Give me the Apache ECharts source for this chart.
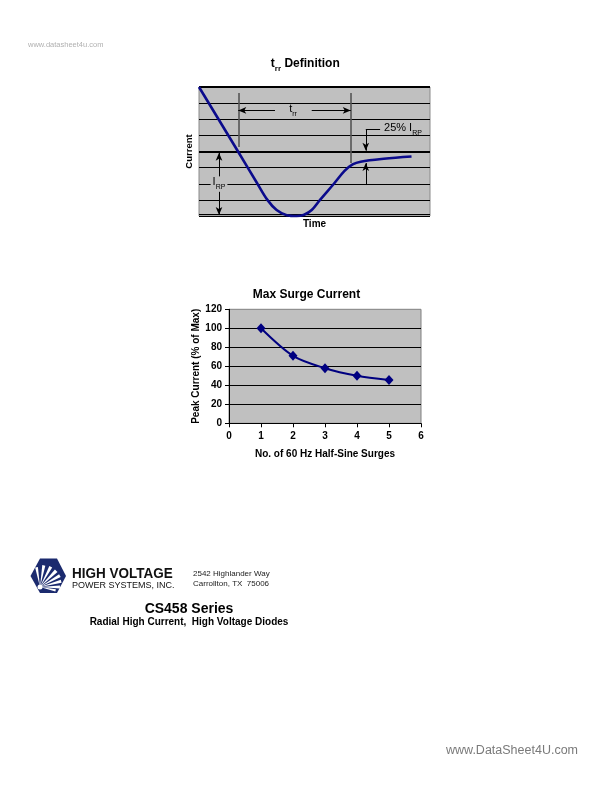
<!DOCTYPE html>
<html><head><meta charset="utf-8">
<script src="https://cdn.jsdelivr.net/npm/echarts@6/dist/echarts.min.js"></script>
<style>html,body{margin:0;padding:0;background:#fff}#c{width:612px;height:792px}</style>
</head><body><div id="c"></div>
<script>
const FONT = 'Liberation Sans, Arial, Helvetica, sans-serif';
// trr definition curve (schematic; x = time units 0-100, y = grid rows 0-8)
const trrTime    = [0, 16.9, 25.3, 29.6, 33.6, 38, 42.3, 45.5, 48.8, 52.4, 58.4, 63, 66.5, 70, 80, 92];
const trrCurrent = [8, 4, 2, 1, 0.37, 0.05, 0, 0.08, 0.37, 1, 2, 2.8, 3.2, 3.37, 3.55, 3.69];
// Max surge current
const surgeCount = [1, 2, 3, 4, 5];
const surgePeak  = [100, 71, 58, 50, 45.5];
const surgeXTicks = [0, 1, 2, 3, 4, 5, 6];
const surgeYTicks = [0, 20, 40, 60, 80, 100, 120];
// annotation segments in diagram units: [x1, y1, x2, y2, arrowAtEnd]
const trrMarkerLines = [[17.0, 7.63, 17.0, 4.28, 0], [65.7, 7.63, 65.7, 3.29, 0]];
const trrArrows      = [[32.9, 6.55, 17.0, 6.55, 1], [48.8, 6.55, 65.7, 6.55, 1]];
const irpArrows      = [[8.66, 2.45, 8.66, 3.92, 1], [8.66, 1.5, 8.66, 0.06, 1]];
const quarterArrows  = [[72.2, 5.38, 78.4, 5.38, 0], [72.2, 5.38, 72.2, 4.05, 1], [72.2, 1.92, 72.2, 3.28, 1]];
const heavyLevels = [4, 8];
const baseLevels = [0, 0.13];

const chart = echarts.init(document.getElementById('c'), null, {renderer: 'canvas'});

function seg(s, color, width) {
  const ls = {color: color, width: width, type: 'solid'};
  return [{coord: [s[0], s[1]], symbol: 'none', lineStyle: ls},
          {coord: [s[2], s[3]], symbol: s[4] ? 'arrow' : 'none', lineStyle: ls}];
}
function level(v, width) {
  return {yAxis: v, symbol: 'none', lineStyle: {color: '#000', width: width, type: 'solid'}};
}

const markData = []
  .concat(heavyLevels.map(v => level(v, 2)))
  .concat(baseLevels.map(v => level(v, 1.1)))
  .concat(trrMarkerLines.map(s => seg(s, '#555', 1.6)))
  .concat(trrArrows.map(s => seg(s, '#000', 1)))
  .concat(irpArrows.map(s => seg(s, '#000', 1)))
  .concat(quarterArrows.map(s => seg(s, '#000', 1)));

const boldLabel = {fontFamily: FONT, fontWeight: 'bold', fontSize: 10, color: '#000'};

const option = {
  animation: false,
  backgroundColor: '#fff',
  grid: [
    {left: 199, top: 87, width: 231, height: 129, show: true, backgroundColor: '#c0c0c0', borderColor: '#8a8a8a', borderWidth: 1},
    {left: 229, top: 309.3, width: 192, height: 114, show: true, backgroundColor: '#c0c0c0', borderColor: '#808080', borderWidth: 1}
  ],
  xAxis: [
    {gridIndex: 0, type: 'value', min: 0, max: 100, axisLine: {show: false}, axisTick: {show: false},
     axisLabel: {show: false}, splitLine: {show: false},
     name: 'Time', nameLocation: 'middle', nameGap: 3.5, nameTextStyle: Object.assign({}, boldLabel, {verticalAlign: 'top'})},
    {gridIndex: 1, type: 'value', min: surgeXTicks[0], max: surgeXTicks[surgeXTicks.length - 1], interval: 1,
     axisLine: {show: true, onZero: false, lineStyle: {color: '#000', width: 1}},
     axisTick: {show: true, inside: false, length: 4, lineStyle: {color: '#000'}},
     axisLabel: Object.assign({margin: 8}, boldLabel), splitLine: {show: false},
     name: 'No. of 60 Hz Half-Sine Surges', nameLocation: 'middle', nameGap: 25.5,
     nameTextStyle: Object.assign({}, boldLabel, {verticalAlign: 'top'})}
  ],
  yAxis: [
    {gridIndex: 0, type: 'value', min: 0, max: 8, interval: 1, axisLine: {show: false}, axisTick: {show: false},
     axisLabel: {show: false}, splitLine: {show: true, lineStyle: {color: '#000', width: 1.2}},
     name: 'Current', nameLocation: 'middle', nameGap: 5, nameTextStyle: Object.assign({}, boldLabel, {fontSize: 9.5})},
    {gridIndex: 1, type: 'value', min: surgeYTicks[0], max: surgeYTicks[surgeYTicks.length - 1], interval: 20,
     axisLine: {show: true, onZero: false, lineStyle: {color: '#000', width: 1}},
     axisTick: {show: true, inside: false, length: 4, lineStyle: {color: '#000'}},
     axisLabel: Object.assign({margin: 7}, boldLabel),
     splitLine: {show: true, showMaxLine: false, lineStyle: {color: '#000', width: 1}},
     name: 'Peak Current (% of Max)', nameLocation: 'middle', nameGap: 28, nameTextStyle: boldLabel}
  ],
  series: [
    {type: 'line', xAxisIndex: 0, yAxisIndex: 0, data: [], z: 2, silent: true,
     markLine: {silent: true, symbol: ['none', 'none'], symbolSize: [5, 8], label: {show: false}, animation: false, data: markData}},
    {type: 'line', xAxisIndex: 0, yAxisIndex: 0, z: 5, clip: false, smooth: 0.35, showSymbol: false,
     lineStyle: {color: '#0b0b8c', width: 2.6}, data: trrTime.map((t, i) => [t, trrCurrent[i]])},
    {type: 'line', xAxisIndex: 1, yAxisIndex: 1, z: 5, smooth: 0.3, symbol: 'diamond', symbolSize: [9, 10],
     itemStyle: {color: '#000080'}, lineStyle: {color: '#000080', width: 2},
     data: surgeCount.map((c, i) => [c, surgePeak[i]])}
  ]
};
chart.setOption(option);

function px(x, y) { return chart.convertToPixel({gridIndex: 0}, [x, y]); }
const subRich = {
  n: {fontFamily: FONT, fontSize: 11, lineHeight: 14, color: '#000', verticalAlign: 'top'},
  s: {fontFamily: FONT, fontSize: 7, lineHeight: 8, color: '#000', verticalAlign: 'bottom'}
};
const trrPos = px(40.7, 6.55), irpPos = px(8.66, 2), qPos = px(80.1, 5.38);

// logo: flat-topped hexagon with a white burst from the lower left
const hex = [[30.5, 576], [40, 558.5], [57, 558.5], [66, 576], [57, 593], [40, 593]];
const fx = 40, fy = 587;
const rays = [[100, 20, 0.07], [80, 22, 0.07], [62, 23, 0.07], [45, 23, 0.08], [30, 23, 0.07], [15, 22, 0.07], [0, 20, 0.07], [-12, 16, 0.07]].map(([deg, len, w]) => {
  const a = deg * Math.PI / 180;
  return {type: 'polygon', shape: {points: [[fx, fy],
    [fx + len * Math.cos(a - w), fy - len * Math.sin(a - w)],
    [fx + len * Math.cos(a + w), fy - len * Math.sin(a + w)]]}, style: {fill: '#fff'}};
});

const graphics = [
  {type: 'text', left: 28, top: 41, style: {text: 'www.datasheet4u.com', font: '7.5px ' + FONT, fill: '#b0b0b0'}},
  {type: 'text', x: 305.3, y: 65, style: {text: '{b|t}{bs|rr}{b| Definition}', align: 'center', verticalAlign: 'middle',
    rich: {b: {fontFamily: FONT, fontWeight: 'bold', fontSize: 12, lineHeight: 15, verticalAlign: 'top', fill: '#000'},
           bs: {fontFamily: FONT, fontWeight: 'bold', fontSize: 8, lineHeight: 9, verticalAlign: 'bottom', fill: '#000'}}}},
  {type: 'text', x: 306.5, y: 295, style: {text: 'Max Surge Current', align: 'center', verticalAlign: 'middle',
    font: 'bold 12px ' + FONT, fill: '#000'}},
  {type: 'text', x: trrPos[0], y: trrPos[1], z: 10, style: {text: '{n|t}{s|rr}', align: 'center', verticalAlign: 'middle', rich: subRich}},
  {type: 'text', x: irpPos[0], y: irpPos[1], z: 10, style: {text: '{n|I}{s|RP}', align: 'center', verticalAlign: 'middle', rich: subRich,
    backgroundColor: '#c0c0c0', padding: [0, 2]}},
  {type: 'text', x: qPos[0], y: qPos[1], z: 10, style: {text: '{n|25% I}{s|RP}', align: 'left', verticalAlign: 'middle', rich: subRich}},
  {type: 'polygon', shape: {points: hex}, style: {fill: '#1b2a6e'}},
  {type: 'group', children: rays},
  {type: 'circle', shape: {cx: fx, cy: fy, r: 2.5}, style: {fill: '#fff'}},
  {type: 'text', x: 72, y: 574, scaleX: 0.9, originX: 0, originY: 0, style: {text: 'HIGH VOLTAGE', font: 'bold 15px ' + FONT, fill: '#111', verticalAlign: 'middle'}},
  {type: 'text', x: 72, y: 586, style: {text: 'POWER SYSTEMS, INC.', font: '9px ' + FONT, fill: '#111', verticalAlign: 'middle'}},
  {type: 'text', x: 193, y: 574, style: {text: '2542 Highlander Way', font: '8px ' + FONT, fill: '#222', verticalAlign: 'middle'}},
  {type: 'text', x: 193, y: 584, style: {text: 'Carrollton, TX  75006', font: '8px ' + FONT, fill: '#222', verticalAlign: 'middle'}},
  {type: 'text', x: 189, y: 609.5, style: {text: 'CS458 Series', font: 'bold 14px ' + FONT, fill: '#000', align: 'center', verticalAlign: 'middle'}},
  {type: 'text', x: 189, y: 622.5, style: {text: 'Radial High Current,  High Voltage Diodes', font: 'bold 10px ' + FONT, fill: '#000', align: 'center', verticalAlign: 'middle'}},
  {type: 'text', x: 446, y: 751, style: {text: 'www.DataSheet4U.com', font: '12.5px ' + FONT, fill: '#7a7a7a', verticalAlign: 'middle'}}
];
chart.setOption({graphic: graphics});
</script>
</body></html>
